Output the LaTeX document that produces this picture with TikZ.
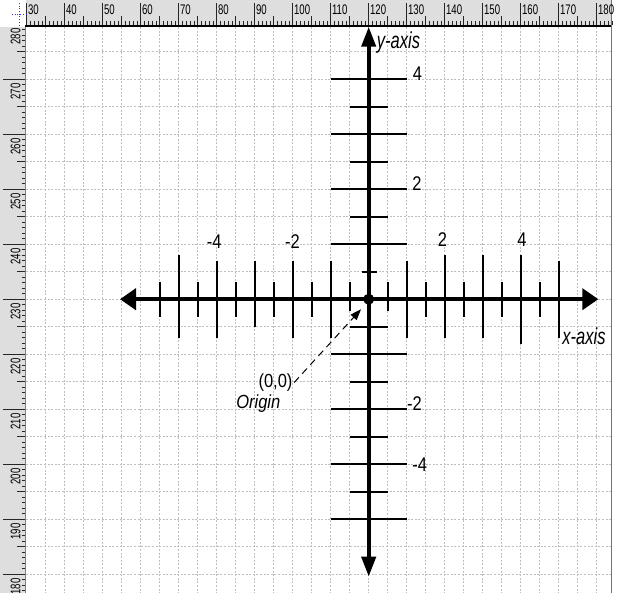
\documentclass[tikz,border=0pt]{standalone}
\usepackage{fontspec}
\setmainfont{Liberation Sans}
\usepackage{graphicx}
\usetikzlibrary{arrows.meta}
\newcommand\ystr[2][1.3]{\scalebox{1}[#1]{#2}}
\begin{document}
\begin{tikzpicture}[x=1pt,y=-1pt,
  gridline/.style={draw=black!25, line width=0.6pt, dash pattern=on 2pt off 1.6pt},
  rulerbg/.style={fill=black!13},
  rtick/.style={draw=black!85, line width=0.7pt},
  axisline/.style={line width=4pt, draw=black},
  bigtick/.style={line width=1.8pt, draw=black},
  numlbl/.style={inner sep=0pt, font=\fontsize{16.5}{16.5}\selectfont},
  axlbl/.style={inner sep=0pt, font=\fontsize{16.5}{16.5}\selectfont\itshape},
  rlbl/.style={inner sep=0pt, font=\fontsize{9.6}{9.6}\selectfont},
]
\useasboundingbox (0,0) rectangle (623,593);
\fill[white] (0,0) rectangle (623,593);
\def\ox{368.7}
\def\oy{299.2}
% grid
\foreach \k in {1,...,30} \draw[gridline] ({26.7+19*\k},27) -- ({26.7+19*\k},593);
\foreach \k in {1,...,20} \draw[gridline] (26,{24.2+27.5*\k}) -- (611,{24.2+27.5*\k});
% right border
\draw[black!55, line width=0.8pt] (611.7,0) -- (611.7,593);
% top ruler
\fill[rulerbg] (26,0) rectangle (611.3,25.5);
\foreach \u in {0,...,154} \draw[rtick] ({26.7+3.8*\u},21) -- ({26.7+3.8*\u},25.5);
\foreach \u in {0,...,14} \draw[rtick] ({45.7+38*\u},16.5) -- ({45.7+38*\u},25.5);
\foreach \u [evaluate=\u as \val using int(30+10*\u)] in {0,...,15} {
  \draw[rtick] ({26.7+38*\u},3) -- ({26.7+38*\u},25.5);
  \node[rlbl, anchor=west] (top\u) at ({27.9+38*\u},10) {\ystr[1.45]{\val}};
}
\draw[line width=1.6pt] (25,26.2) -- (611.3,26.2);
% left ruler
\fill[rulerbg] (0,27) rectangle (25.5,593);
\foreach \u in {1,...,104} \draw[rtick] (21.5,{24.2+5.5*\u}) -- (25.5,{24.2+5.5*\u});
\foreach \m in {0,...,10} \draw[rtick] (17,{51.7+55*\m}) -- (25.5,{51.7+55*\m});
\foreach \m [evaluate=\m as \val using int(280-10*\m)] in {0,...,10} {
  \ifnum\m>0 \draw[rtick] (3,{24.2+55*\m}) -- (25.5,{24.2+55*\m}); \fi
  \node[rlbl, rotate=90] (left\m) at (15.5,{36.6+55*\m}) {\ystr[1.45]{\val}};
}
\draw[black!50, line width=0.6pt] (25.7,27) -- (25.7,593);
% corner marker
\draw[blue!80, dotted, line width=0.7pt] (12,14.5) -- (26,14.5);
\draw[blue!80, dotted, line width=0.7pt] (19,3) -- (19,25);
% x-axis ticks
\foreach \i/\a/\b in {-5/255/338.3,-4/260.7/338.3,-3/260.7/327.3,-2/260.7/338.3,-1/260.7/338.3,
                     1/260.7/338.3,2/255/338.3,3/255/338.3,4/255/344,5/260.7/338.3}
  \draw[bigtick] ({\ox+38*\i},\a) -- ({\ox+38*\i},\b);
\foreach \i in {-5.5,-4.5,-3.5,-2.5,-1.5,1.5,2.5,3.5,4.5}
  \draw[bigtick] ({\ox+38*\i},282.3) -- ({\ox+38*\i},316.7);
\foreach \i in {-0.5,0.5}
  \draw[bigtick] ({\ox+38*\i},282.3) -- ({\ox+38*\i},310.7);
% y-axis ticks
\foreach \j in {-4,-3,-2,-1,1,2,3,4}
  \draw[bigtick] (331,{\oy-55*\j}) -- (406.7,{\oy-55*\j});
\foreach \j in {-3.5,-2.5,-1.5,-0.5,1.5,2.5,3.5}
  \draw[bigtick] (350,{\oy-55*\j}) -- (388.3,{\oy-55*\j});
\draw[bigtick] (361.7,{\oy-27.5}) -- (376.7,{\oy-27.5});
% axes
\coordinate (xl) at (120,\oy);
\coordinate (xr) at (598.3,\oy);
\coordinate (yt) at (\ox,26.7);
\coordinate (yb) at (\ox,576.7);
\draw[axisline, {Triangle[length=16pt,width=21pt]}-{Triangle[length=16pt,width=21pt]}] (xl) -- (xr);
\draw[axisline, {Triangle[length=20pt,width=14pt]}-{Triangle[length=20pt,width=14pt]}] (yt) -- (yb);
\node[circle, fill=black, inner sep=0pt, minimum size=11pt] (O) at (\ox,\oy) {};
% axis labels
\node[axlbl] (ylab) at (398.5,42.5) {\ystr[1.4]{y-axis}};
\node[axlbl] (xlab) at (584,336) {\ystr[1.4]{x-axis}};
% number labels
\node[numlbl] (xm4) at (214.2,241.7) {\ystr[1.2]{-4}};
\node[numlbl] (xm2) at (292.5,241.7) {\ystr[1.2]{-2}};
\node[numlbl] (xp2) at (442.5,239.5) {\ystr[1.2]{2}};
\node[numlbl] (xp4) at (522,239.5) {\ystr[1.2]{4}};
\node[numlbl] (yp4) at (417.5,74) {\ystr[1.2]{4}};
\node[numlbl] (yp2) at (417,184) {\ystr[1.2]{2}};
\node[numlbl] (ym2) at (414.5,404) {\ystr[1.2]{-2}};
\node[numlbl] (ym4) at (419.7,465) {\ystr[1.2]{-4}};
% origin annotation
\node[numlbl] (zero) at (275.5,382.5) {\ystr[1.15]{(0,0)}};
\node[axlbl] (orig) at (258.3,403.3) {\ystr[1.15]{Origin}};
\coordinate (otip) at (361,309.3);
\draw[line width=1pt, dash pattern=on 7pt off 5pt, -{Triangle[length=11pt,width=8pt]}] ([xshift=1.5pt]zero.east) -- (otip);
\end{tikzpicture}
\end{document}
